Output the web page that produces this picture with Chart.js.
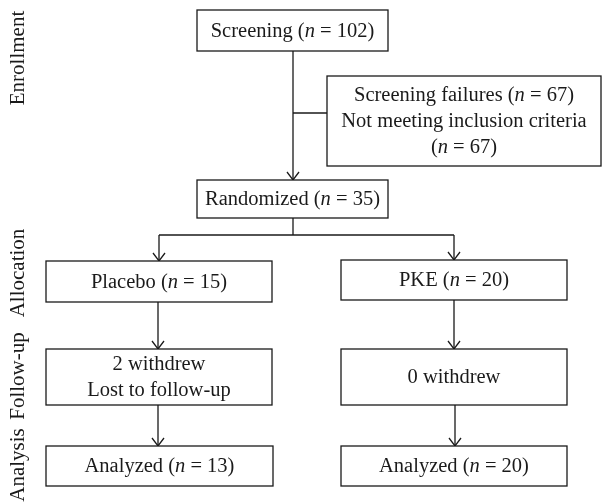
<!DOCTYPE html>
<html lang="en">
<head>
    <meta charset="UTF-8">
    <title>Study flow diagram</title>
    <script src="https://cdn.jsdelivr.net/npm/chart.js"></script>
    <style>
        body {
            margin: 0;
            padding: 0;
            background: #ffffff;
        }
        #wrap {
            width: 604px;
            height: 502px;
        }
    </style>
</head>
<body>
    <div id="wrap"><canvas id="flow" width="604" height="502"></canvas></div>

    <script>
        // stage names down the left side
        const stages = ['Enrollment', 'Allocation', 'Follow-up', 'Analysis'];
        const stageY = [58, 273, 376, 465];

        // box texts; *n* marks the italic n
        const boxText = [
            ['Screening (*n* = 102)'],
            ['Screening failures (*n* = 67)', 'Not meeting inclusion criteria', '(*n* = 67)'],
            ['Randomized (*n* = 35)'],
            ['Placebo (*n* = 15)'],
            ['PKE (*n* = 20)'],
            ['2 withdrew', 'Lost to follow-up'],
            ['0 withdrew'],
            ['Analyzed (*n* = 13)'],
            ['Analyzed (*n* = 20)']
        ];

        // box extents in diagram units
        const boxLeft   = [197, 327, 197, 46, 341, 46, 341, 46, 341];
        const boxRight  = [388, 601, 388, 272, 567, 272, 567, 273, 567];
        const boxTop    = [10, 76, 180, 261, 260, 349, 349, 446, 446];
        const boxBottom = [51, 166, 218, 302, 300, 405, 405, 486, 486];

        // connectors: [points, arrowhead at end]
        const links = [
            [[[293, 51], [293, 180]], true],
            [[[293, 113], [327, 113]], false],
            [[[293, 218], [293, 235]], false],
            [[[159, 235], [454, 235]], false],
            [[[159, 235], [159, 261]], true],
            [[[454, 235], [454, 260]], true],
            [[[158, 302], [158, 349]], true],
            [[[454, 300], [454, 349]], true],
            [[[158, 405], [158, 446]], true],
            [[[455, 405], [455, 446]], true]
        ];

        const FONT = '"Liberation Serif", "Times New Roman", serif';
        const SIZE = 20.5;
        const STAGE_SIZE = 21;

        function drawRich(ctx, str, cx, cy) {
            const parts = str.split('*');
            let total = 0;
            parts.forEach((p, i) => {
                ctx.font = (i % 2 ? 'italic ' : '') + SIZE + 'px ' + FONT;
                total += ctx.measureText(p).width;
            });
            let x = cx - total / 2;
            parts.forEach((p, i) => {
                ctx.font = (i % 2 ? 'italic ' : '') + SIZE + 'px ' + FONT;
                ctx.fillText(p, x, cy);
                x += ctx.measureText(p).width;
            });
        }

        const flowPlugin = {
            id: 'flow',
            afterDatasetsDraw(chart) {
                const ctx = chart.ctx;
                const xs = chart.scales.x, ys = chart.scales.y;
                ctx.save();
                ctx.strokeStyle = '#1a1a1a';
                ctx.lineWidth = 1.3;

                // arrowheads
                chart.data.datasets.forEach(ds => {
                    if (!ds.arrow) return;
                    const p = ds.data[ds.data.length - 1];
                    const px = xs.getPixelForValue(p.x), py = ys.getPixelForValue(p.y);
                    ctx.beginPath();
                    ctx.moveTo(px - 6, py - 8);
                    ctx.lineTo(px, py);
                    ctx.lineTo(px + 6, py - 8);
                    ctx.stroke();
                });

                // boxes and their text
                boxText.forEach((lines, i) => {
                    const x0 = xs.getPixelForValue(boxLeft[i]), x1 = xs.getPixelForValue(boxRight[i]);
                    const y0 = ys.getPixelForValue(boxTop[i]), y1 = ys.getPixelForValue(boxBottom[i]);
                    ctx.fillStyle = '#ffffff';
                    ctx.fillRect(x0, y0, x1 - x0, y1 - y0);
                    ctx.strokeRect(x0, y0, x1 - x0, y1 - y0);
                    ctx.fillStyle = '#1a1a1a';
                    ctx.textBaseline = 'middle';
                    const lh = 26;
                    const cy = (y0 + y1) / 2 - (lines.length - 1) * lh / 2;
                    lines.forEach((l, k) => drawRich(ctx, l, (x0 + x1) / 2, cy + k * lh + 1));
                });

                // stage labels
                ctx.font = STAGE_SIZE + 'px ' + FONT;
                ctx.textAlign = 'center';
                stages.forEach((s, i) => {
                    ctx.save();
                    ctx.translate(xs.getPixelForValue(18), ys.getPixelForValue(stageY[i]));
                    ctx.rotate(-Math.PI / 2);
                    ctx.fillText(s, 0, 0);
                    ctx.restore();
                });
                ctx.restore();
            }
        };

        const datasets = links.map(([pts, arrow]) => ({
            data: pts.map(([x, y]) => ({ x, y })),
            showLine: true,
            borderColor: '#1a1a1a',
            borderWidth: 1.3,
            pointRadius: 0,
            arrow: arrow
        }));

        new Chart(document.getElementById('flow'), {
            type: 'scatter',
            data: { datasets },
            options: {
                responsive: false,
                animation: false,
                layout: { padding: 0 },
                plugins: { legend: { display: false }, tooltip: { enabled: false } },
                scales: {
                    x: { type: 'linear', min: 0, max: 604, display: false },
                    y: { type: 'linear', min: 0, max: 502, reverse: true, display: false }
                }
            },
            plugins: [flowPlugin]
        });
    </script>
</body>
</html>
